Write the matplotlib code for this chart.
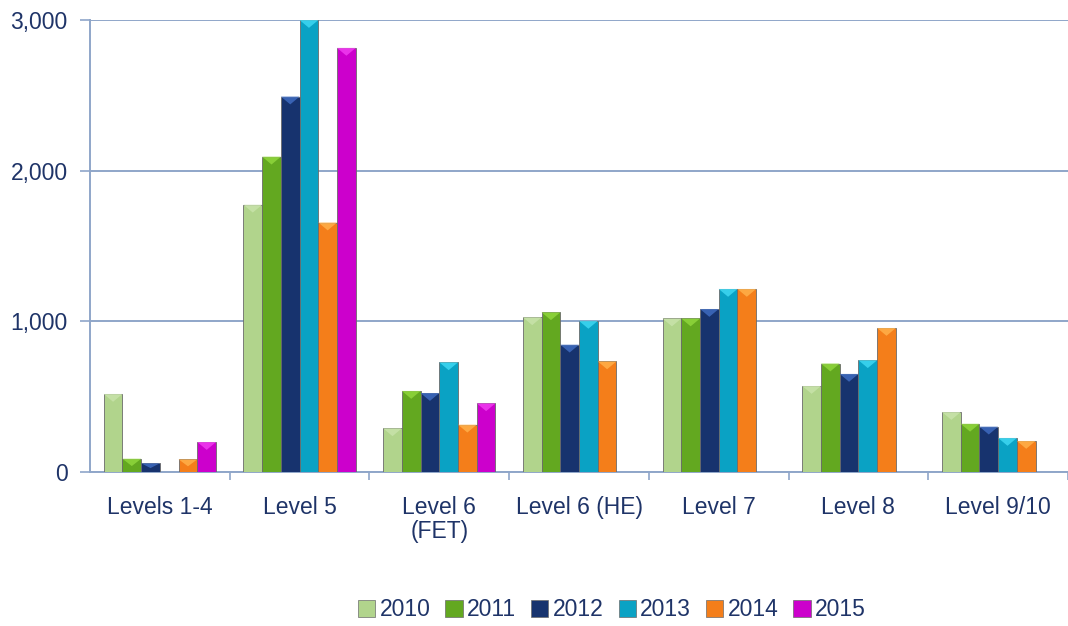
import numpy as np
import matplotlib
matplotlib.use("Agg")
import matplotlib.pyplot as plt
from matplotlib.patches import Polygon, Patch
from matplotlib.ticker import FuncFormatter

# ── data ──
categories = ["Levels 1-4", "Level 5", "Level 6\n(FET)", "Level 6 (HE)",
              "Level 7", "Level 8", "Level 9/10"]
years = ["2010", "2011", "2012", "2013", "2014", "2015"]

v2010 = [518, 1774, 290, 1027, 1019, 571, 398]
v2011 = [88, 2093, 538, 1060, 1019, 720, 320]
v2012 = [58, 2492, 524, 845, 1082, 651, 301]
v2013 = [0, 3000, 728, 1003, 1215, 742, 226]
v2014 = [84, 1656, 314, 734, 1215, 956, 206]
v2015 = [199, 2815, 456, 0, 0, 0, 0]
series = [v2010, v2011, v2012, v2013, v2014, v2015]

colours = ["#B1D48C", "#63A820", "#17336E", "#0AA2C4", "#F47E1A", "#CC00CC"]
caps    = ["#C8E3AA", "#8FD63C", "#3F6BC0", "#3FD8F2", "#FFB04A", "#F03CF0"]
TEXT = "#1F3468"
GRID = "#8FA6C9"
FS = 16.5

fig = plt.figure(figsize=(10.68, 6.26), dpi=100)
ax = fig.add_axes([0.0843, 0.246, 0.9157, 0.722])

x = np.arange(len(categories))
n = len(years)
bw = 0.134
cap_h = 52.0  # data units for the chevron on top of each bar

for i, (vals, c, cc) in enumerate(zip(series, colours, caps)):
    xs = x + (i - (n - 1) / 2) * bw
    ax.bar(xs, vals, width=bw, color=c, edgecolor="#6b6b6b", linewidth=0.6,
           label=years[i], zorder=3)
    for xc, v in zip(xs, vals):
        if v <= 0:
            continue
        h = min(cap_h, v * 0.55)
        tri = Polygon([(xc - bw / 2, v), (xc + bw / 2, v), (xc, v - h)],
                      closed=True, facecolor=cc, edgecolor="none", alpha=0.85,
                      zorder=4)
        ax.add_patch(tri)

ax.set_ylim(0, 3000)
ax.set_xlim(-0.5, 6.5 - 5.5 / 140.5)
ax.set_yticks([0, 1000, 2000, 3000])
ax.yaxis.set_major_formatter(FuncFormatter(lambda v, p: f"{int(v):,}"))
ax.grid(axis="y", color=GRID, lw=1.4, zorder=0)

ax.set_xticks(x)
ax.set_xticklabels(categories, linespacing=1.05)
ax.set_xticks(np.arange(len(categories)) + 0.5, minor=True)
ax.tick_params(axis="x", which="major", length=0, pad=17)
ax.tick_params(axis="x", which="minor", length=6, color=GRID, width=1.2)
ax.tick_params(axis="y", length=7, color=GRID, width=1.2, pad=9)
ax.tick_params(labelsize=FS, labelcolor=TEXT)
for lab in ax.get_xticklabels() + ax.get_yticklabels():
    lab.set_family("Liberation Sans")

for s in ["top", "right"]:
    ax.spines[s].set_visible(False)
for s in ["left", "bottom"]:
    ax.spines[s].set_color(GRID)
    ax.spines[s].set_linewidth(1.4)

handles = [Patch(facecolor=c, edgecolor="#6b6b6b", linewidth=0.5) for c in colours]
fig.legend(handles, years, loc="center", bbox_to_anchor=(0.573, 0.026), ncol=6,
           frameon=False, handlelength=0.75, handleheight=0.75, handletextpad=0.2,
           columnspacing=0.65,
           prop={"family": "Liberation Sans", "size": FS}, labelcolor=TEXT)

fig.savefig("out.png", dpi=100)
